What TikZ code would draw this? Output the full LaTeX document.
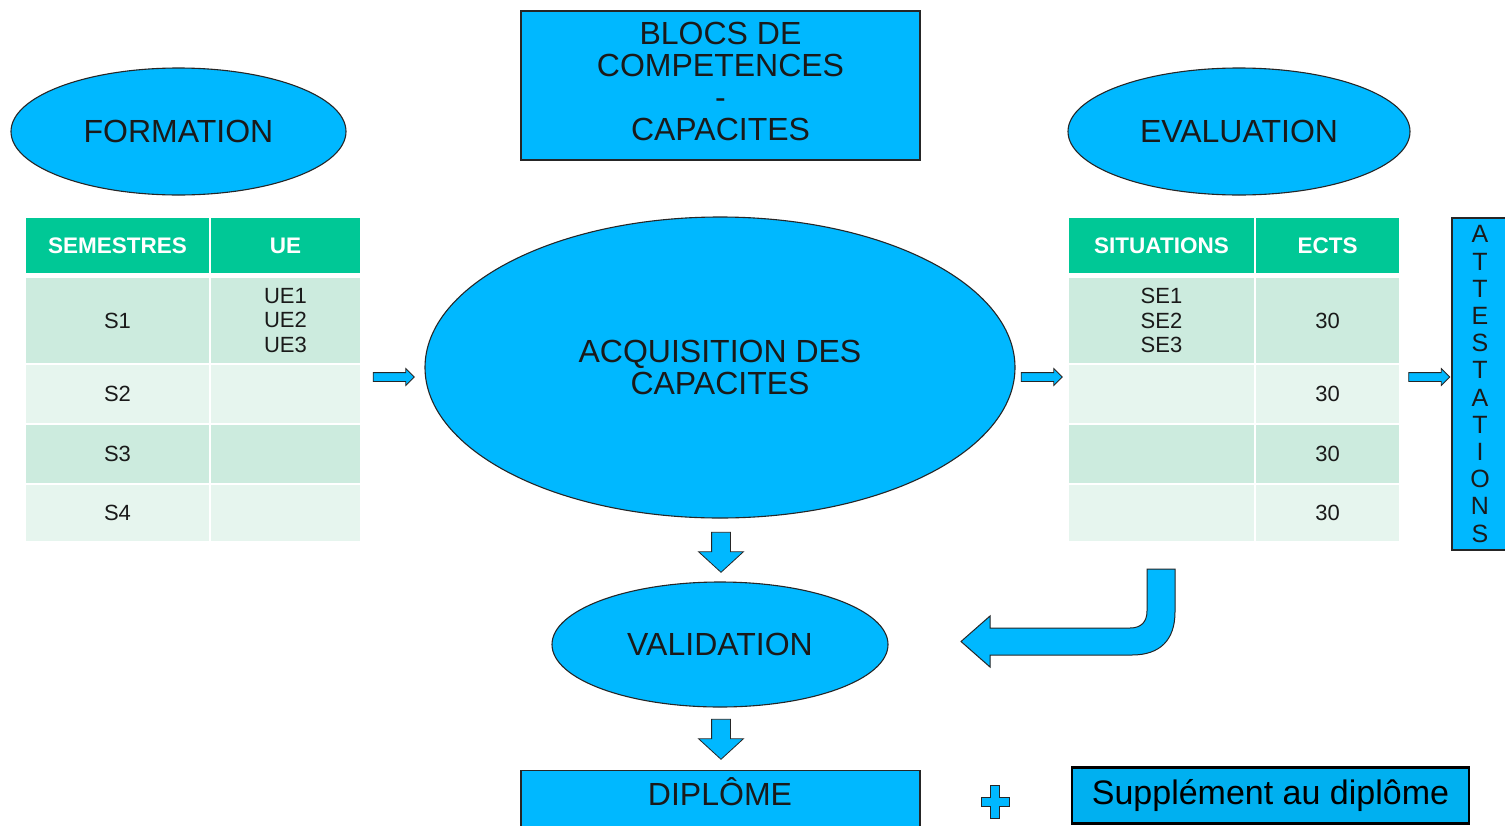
\documentclass[tikz,border=0pt]{standalone}
\usepackage{fontspec}
\setmainfont{Liberation Sans}
\usepackage{tikz}
\usetikzlibrary{shapes.geometric,shapes.arrows}
\definecolor{sky}{HTML}{00B8FF}
\definecolor{skydark}{HTML}{00B0F0}
\definecolor{head}{HTML}{00C896}
\definecolor{rowa}{HTML}{CCEBDE}
\definecolor{rowb}{HTML}{E6F5EE}
\definecolor{ink}{HTML}{1A1A1A}
\tikzset{
  big/.style={text=ink, font=\fontsize{32}{32}\selectfont, align=center},
  blob/.style={ellipse, fill=sky, draw=black!85, line width=1.1pt, inner sep=0pt, big},
  bluebox/.style={rectangle, fill=sky, draw=black!85, line width=1.1pt, inner sep=0pt},
  headcell/.style={rectangle, fill=head, text=white, inner sep=0pt,
    font=\fontsize{22.5}{24}\selectfont\bfseries},
  cell/.style={rectangle, text=ink, inner sep=0pt, align=center,
    font=\fontsize{22}{24.5}\selectfont},
  rarrow/.style={single arrow, fill=sky, draw=black!85, line width=0.8pt, inner sep=4pt,
    minimum width=16pt, single arrow head extend=4pt, minimum height=41pt},
  darrow/.style={single arrow, fill=sky, draw=black!85, line width=0.8pt, inner sep=9pt,
    minimum width=44pt, single arrow head extend=13pt, minimum height=40pt,
    single arrow tip angle=95, rotate=-90},
}

\begin{document}
\begin{tikzpicture}[x=1pt,y=-1pt]
  \useasboundingbox[fill=white] (0,0) rectangle (1505,825);

  % top row
  \node[blob, minimum width=335pt, minimum height=127pt] (form) at (178.5,131.5) {FORMATION};
  \node[bluebox, big, minimum width=399pt, minimum height=149pt, text depth=8pt] (blocs) at (720.5,85.5)
    {BLOCS DE\\COMPETENCES\\-\\CAPACITES};
  \node[blob, minimum width=342pt, minimum height=127pt] (eval) at (1239,131.5) {EVALUATION};

  % left table
  \node[headcell, minimum width=183pt, minimum height=55pt] (sem) at (117.5,245.5) {SEMESTRES};
  \node[headcell, minimum width=149pt, minimum height=55pt] (ue) at (285.5,245.5) {UE};
  \node[cell, fill=rowa, minimum width=183pt, minimum height=85pt] (s1) at (117.5,320.5) {S1};
  \node[cell, fill=rowa, minimum width=149pt, minimum height=85pt] (ue1) at (285.5,320.5) {UE1\\UE2\\UE3};
  \node[cell, fill=rowb, minimum width=183pt, minimum height=58pt] (s2) at (117.5,394) {S2};
  \node[cell, fill=rowb, minimum width=149pt, minimum height=58pt] (ue2) at (285.5,394) {};
  \node[cell, fill=rowa, minimum width=183pt, minimum height=58pt] (s3) at (117.5,454) {S3};
  \node[cell, fill=rowa, minimum width=149pt, minimum height=58pt] (ue3) at (285.5,454) {};
  \node[cell, fill=rowb, minimum width=183pt, minimum height=56pt] (s4) at (117.5,513) {S4};
  \node[cell, fill=rowb, minimum width=149pt, minimum height=56pt] (ue4) at (285.5,513) {};

  % centre
  \node[blob, minimum width=590pt, minimum height=301pt] (acq) at (720,367.5)
    {ACQUISITION DES\\CAPACITES};

  % right table
  \node[headcell, minimum width=185pt, minimum height=55pt] (sit) at (1161.5,245.5) {SITUATIONS};
  \node[headcell, minimum width=143pt, minimum height=55pt] (ects) at (1327.5,245.5) {ECTS};
  \node[cell, fill=rowa, minimum width=185pt, minimum height=85pt] (se1) at (1161.5,320.5) {SE1\\SE2\\SE3};
  \node[cell, fill=rowa, minimum width=143pt, minimum height=85pt] (e1) at (1327.5,320.5) {30};
  \node[cell, fill=rowb, minimum width=185pt, minimum height=58pt] (se2) at (1161.5,394) {};
  \node[cell, fill=rowb, minimum width=143pt, minimum height=58pt] (e2) at (1327.5,394) {30};
  \node[cell, fill=rowa, minimum width=185pt, minimum height=58pt] (se3) at (1161.5,454) {};
  \node[cell, fill=rowa, minimum width=143pt, minimum height=58pt] (e3) at (1327.5,454) {30};
  \node[cell, fill=rowb, minimum width=185pt, minimum height=56pt] (se4) at (1161.5,513) {};
  \node[cell, fill=rowb, minimum width=143pt, minimum height=56pt] (e4) at (1327.5,513) {30};

  \node[bluebox, minimum width=56pt, minimum height=332pt, align=center, text=ink,
    font=\fontsize{25}{27.2}\selectfont] (att) at (1480,384)
    {A\\T\\T\\E\\S\\T\\A\\T\\I\\O\\N\\S};

  % arrows
  \node[rarrow] (ar1) at (391.5,377) {};
  \node[rarrow] (ar2) at (1039.5,377) {};
  \node[rarrow] (ar3) at (1427,377) {};
  \node[darrow] (ad1) at (721,548) {};
  \node[darrow] (ad2) at (721,735) {};
  \draw[fill=sky, draw=black!85, line width=1pt]
    (1147,569) -- (1175,569) -- (1175,612) .. controls (1175,640) and (1160,655) .. (1132,655)
    -- (990,655) -- (990,667) -- (961,641.5) -- (990,616) -- (990,628) -- (1130,628)
    .. controls (1141,628) and (1147,622) .. (1147,611) -- cycle;

  % bottom
  \node[blob, minimum width=336pt, minimum height=125pt] (valid) at (720,644.5) {VALIDATION};
  \node[bluebox, minimum width=399pt, minimum height=70pt, anchor=north] (dipl) at (720.5,770) {};
  \node[big] (diplt) at (720,792) {DIPLÔME};
  \draw[fill=sky, draw=black!85, line width=1pt]
    (990.5,785) -- (999.5,785) -- (999.5,797) -- (1009,797) -- (1009,806) -- (999.5,806)
    -- (999.5,818) -- (990.5,818) -- (990.5,806) -- (981,806) -- (981,797) -- (990.5,797) -- cycle;
  \node[bluebox, fill=skydark, draw=black, line width=2.2pt, minimum width=397pt,
    minimum height=56pt, text=black, font=\fontsize{34}{34}\selectfont] (supp) at (1270.5,795.5)
    {Supplément au diplôme};
\end{tikzpicture}
\end{document}
